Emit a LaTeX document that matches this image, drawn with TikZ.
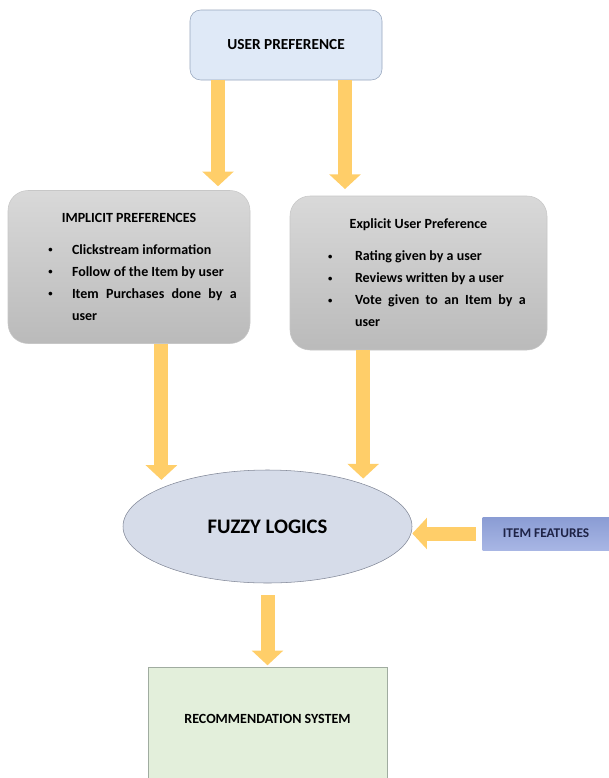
\documentclass[tikz,border=0pt]{standalone}
\usepackage{fontspec}
\setmainfont{Carlito}
\usepackage{enumitem}
\usetikzlibrary{arrows.meta,positioning,shapes.geometric}
\definecolor{prefblue}{RGB}{223,233,247}
\definecolor{prefedge}{RGB}{150,165,188}
\definecolor{logicfill}{RGB}{214,220,233}
\definecolor{logicedge}{RGB}{128,134,150}
\definecolor{feattop}{RGB}{138,156,212}
\definecolor{featlow}{RGB}{168,182,228}
\definecolor{feattext}{RGB}{30,35,70}
\definecolor{recgreen}{RGB}{227,239,219}
\definecolor{recedge}{RGB}{160,172,160}
\definecolor{arrowyellow}{RGB}{255,206,105}
\newcommand{\smallbullet}{\raisebox{1.2pt}{\fontsize{6.5}{7}\selectfont\textbullet}}

\begin{document}
\begin{tikzpicture}[x=0.75pt, y=-0.75pt,
      prefbox/.style={draw=prefedge, fill=prefblue, rounded corners=8pt,
                  minimum width=144pt, minimum height=52.5pt,
                  font=\fontsize{11.5}{14}\selectfont\bfseries},
      greybox/.style={draw=black!22, top color=black!15, bottom color=black!27,
                  rounded corners=15pt, inner xsep=0pt, align=justify,
                  minimum height=114.75pt,
                  font=\fontsize{10.5}{16.5}\selectfont\bfseries},
      logicell/.style={ellipse, draw=logicedge, fill=logicfill,
                  minimum width=216.75pt, minimum height=84.75pt,
                  font=\fontsize{15.5}{18}\selectfont\bfseries},
      featbox/.style={top color=feattop, bottom color=featlow,
                  minimum width=95.25pt, minimum height=24.75pt, text=feattext,
                  font=\fontsize{10}{12}\selectfont\bfseries},
      recbox/.style={draw=recedge, fill=recgreen,
                  minimum width=179.25pt, minimum height=85pt,
                  font=\fontsize{10.5}{12}\selectfont\bfseries},
      fatarrow/.style={draw=arrowyellow, line width=10.5pt,
                  -{Triangle[length=11pt,width=23pt]}}]
    \useasboundingbox (0,0) rectangle (609,778);

    \node[prefbox] (userpref) at (286,45) {USER PREFERENCE};
    \node[greybox, text width=181.5pt] (implicit) at (129,267) {%
      {\centering IMPLICIT PREFERENCES\par}
      \begin{itemize}[label=\smallbullet, leftmargin=48pt, rightmargin=10pt,
          labelsep=14.5pt, topsep=7.5pt, partopsep=0pt, itemsep=0pt, parsep=0pt]
        \item Clickstream information
        \item Follow of the Item by user
        \item Item Purchases done by a user
      \end{itemize}};
    \node[greybox, text width=192.75pt, minimum height=115.5pt] (explicit) at (418.5,273) {%
      {\centering Explicit User Preference\par}
      \begin{itemize}[label=\smallbullet, leftmargin=48.75pt, rightmargin=16pt,
          labelsep=17pt, topsep=7.5pt, partopsep=0pt, itemsep=0pt, parsep=0pt]
        \item Rating given by a user
        \item Reviews written by a user
        \item Vote given to an Item by a user
      \end{itemize}};
    \node[logicell] (fuzzy) at (267.5,526.5) {FUZZY LOGICS};
    \node[featbox, right=52.5pt of fuzzy, yshift=-5.25pt] (itemfeat) {ITEM FEATURES};
    \node[recbox, below=63pt of fuzzy, text depth=8pt] (recsys) {RECOMMENDATION SYSTEM};

    \draw[fatarrow, shorten >=3pt] (userpref.south -| 218,0) -- (implicit.north -| 218,0);
    \draw[fatarrow, shorten >=5pt] (userpref.south -| 345,0) -- (explicit.north -| 345,0);
    \draw[fatarrow, shorten >=6pt] (implicit.south -| fuzzy.160) -- (fuzzy.160);
    \draw[fatarrow, shorten >=4pt] (explicit.south -| fuzzy.24) -- (fuzzy.24);
    \draw[fatarrow, shorten <=5pt] (itemfeat.west) -- (itemfeat.west -| fuzzy.east);
    \draw[fatarrow, shorten <=9pt, shorten >=1.5pt] (fuzzy.south) -- (recsys.north);
  \end{tikzpicture}
\end{document}
